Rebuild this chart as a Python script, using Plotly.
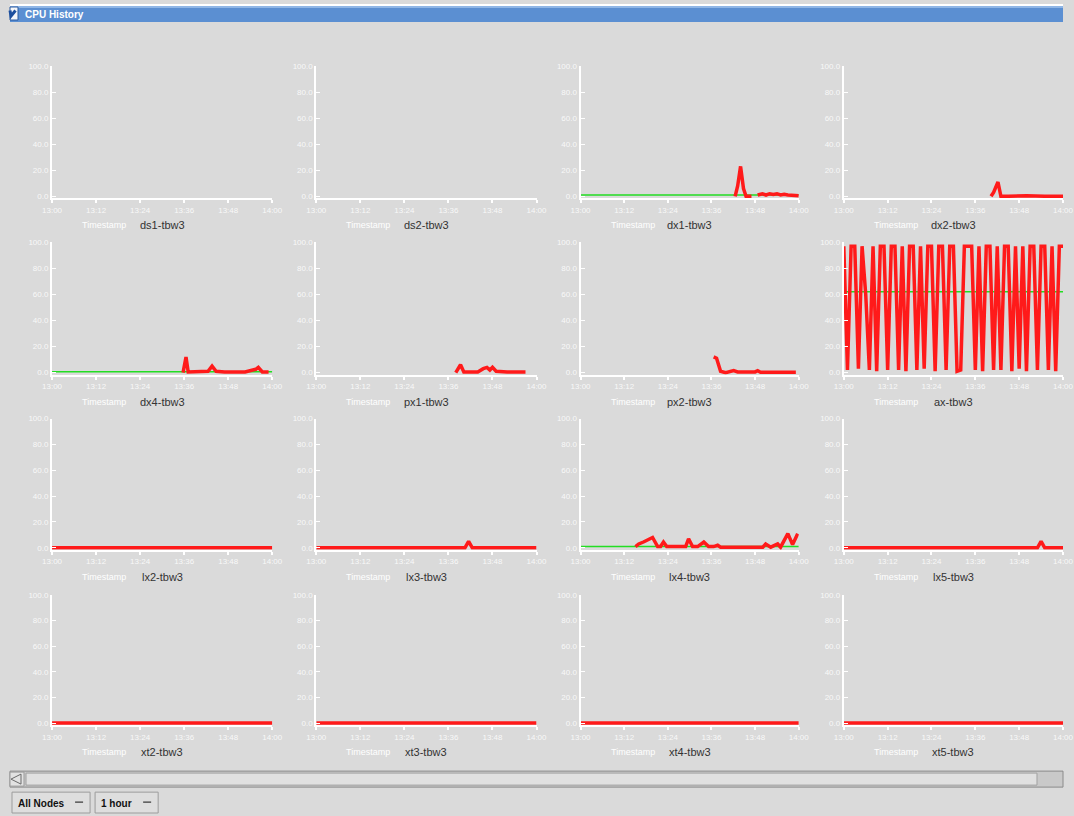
import plotly.graph_objects as go

W, H = 1074, 816

# ---------------- data ----------------
NAMES = ["ds1-tbw3", "ds2-tbw3", "dx1-tbw3", "dx2-tbw3",
         "dx4-tbw3", "px1-tbw3", "px2-tbw3", "ax-tbw3",
         "lx2-tbw3", "lx3-tbw3", "lx4-tbw3", "lx5-tbw3",
         "xt2-tbw3", "xt3-tbw3", "xt4-tbw3", "xt5-tbw3"]

X_TICKS = [0, 12, 24, 36, 48, 60]
X_TICK_LABELS = ["13:00", "13:12", "13:24", "13:36", "13:48", "14:00"]
Y_TICKS = [0, 20, 40, 60, 80, 100]
Y_TICK_LABELS = ["0.0", "20.0", "40.0", "60.0", "80.0", "100.0"]

FULL_T = [0, 60]
ZERO_V = [0, 0]

TIME_1MIN = [0, 1, 2, 3, 4, 5, 6, 7, 8, 9, 10, 11, 12, 13, 14, 15, 16, 17, 18, 19, 20,
             21, 22, 23, 24, 25, 26, 27, 28, 29, 30, 31, 32, 33, 34, 35, 36, 37, 38, 39, 40,
             41, 42, 43, 44, 45, 46, 47, 48, 49, 50, 51, 52, 53, 54, 55, 56, 57, 58, 59, 60]

dx1_red_t = [42.5, 43.2, 44.0, 44.8, 45.5, 47.0, None, 48.7, 50, 51, 52, 53, 54, 55, 56, 57, 58, 59, 60]
dx1_red_v = [0, 8, 23, 6, 0, 0, None, 1, 2, 1, 2, 1.5, 2, 1, 1.5, 1, 1, 0.5, 0.5]
dx1_avg_t = [0, 60]
dx1_avg_v = [1, 1]

dx2_red_t = [40.3, 41.0, 42.2, 43.0, 45, 50, 55, 60]
dx2_red_v = [0, 3, 11, 0, 0, 0.5, 0, 0]

dx4_red_t = [35.7, 36.5, 37.1, 39, 42.5, 43.6, 44.7, 47, 50, 52.6, 55.5, 56.2, 57.3, 59]
dx4_red_v = [0, 12, 0.5, 0.5, 1, 5, 1, 0.5, 0.5, 0.5, 2.5, 4, 0.5, 0.5]
dx4_avg_t = [0, 60]
dx4_avg_v = [0.7, 0.7]

px1_red_t = [0, None, 38, 39.3, 40.2, 42, 44, 45.5, 46.5, 47.3, 48, 49, 52, 57]
px1_red_v = [0.5, None, 0, 6, 0.5, 0.5, 0.5, 3, 4, 2, 4, 1, 0.5, 0.5]

px2_red_t = [36.6, 37.4, 38.5, 39.9, 42.1, 43.2, 48.0, 48.7, 49.5, 54, 59.2]
px2_red_v = [12, 11, 1, 0, 1.5, 0.5, 0.5, 1.5, 0.3, 0.3, 0.3]

ax_red_v = [97, 2, 97, 97, 3, 97, 60, 2, 97, 1, 97, 97, 2, 97, 97, 2, 97, 1, 97, 97,
            2, 97, 3, 97, 97, 1, 97, 97, 2, 97, 97, 1, 2, 97, 97, 97, 2, 97, 1, 97,
            97, 2, 97, 2, 97, 97, 1, 97, 3, 97, 1, 97, 97, 2, 97, 97, 2, 97, 1, 97, 97]
ax_avg_t = [0, 60]
ax_avg_v = [62, 62]

lx3_red_t = [0, 40.5, 41.5, 42.5, 60]
lx3_red_v = [0, 0, 5, 0, 0]

lx4_red_t = [15.1, 16.0, 17.3, 18.4, 19.8, 21.2, 22.0, 22.8, 23.7, 28.9, 29.7, 30.8, 32.2,
             33.9, 35.2, 36.6, 37.7, 38.5, 50.1, 50.9, 52.3, 54.2, 55.0, 57.0, 58.3, 59.7]
lx4_red_v = [1, 3, 4.5, 6, 8, 1, 1, 4.5, 1, 1, 7, 1, 1,
             4.5, 1, 1, 2, 0.5, 0.5, 3, 0.5, 3, 0.5, 11, 2.5, 11]
lx4_avg_t = [0, 60]
lx4_avg_v = [1, 1]

lx5_red_t = [0, 53, 54, 55, 60]
lx5_red_v = [0, 0, 5, 0, 0]

RED = {
    "dx1-tbw3": (dx1_red_t, dx1_red_v),
    "dx2-tbw3": (dx2_red_t, dx2_red_v),
    "dx4-tbw3": (dx4_red_t, dx4_red_v),
    "px1-tbw3": (px1_red_t, px1_red_v),
    "px2-tbw3": (px2_red_t, px2_red_v),
    "ax-tbw3": (TIME_1MIN, ax_red_v),
    "lx2-tbw3": (FULL_T, ZERO_V),
    "lx3-tbw3": (lx3_red_t, lx3_red_v),
    "lx4-tbw3": (lx4_red_t, lx4_red_v),
    "lx5-tbw3": (lx5_red_t, lx5_red_v),
    "xt2-tbw3": (FULL_T, ZERO_V),
    "xt3-tbw3": (FULL_T, ZERO_V),
    "xt4-tbw3": (FULL_T, ZERO_V),
    "xt5-tbw3": (FULL_T, ZERO_V),
}
AVG = {
    "dx1-tbw3": (dx1_avg_t, dx1_avg_v),
    "dx4-tbw3": (dx4_avg_t, dx4_avg_v),
    "ax-tbw3": (ax_avg_t, ax_avg_v),
    "lx4-tbw3": (lx4_avg_t, lx4_avg_v),
}

# ---------------- layout helpers ----------------
# the captured picture places the page at offset (10, 4) with scale (0.9795, 0.990);
# map target picture pixels back to paper fractions.
OX, OY, SX, SY = 10.0, 4.0, 0.9795, 0.990

def px(x):
    return min(1.0, max(0.0, ((x - OX) / SX) / W))

def py(y):
    return min(1.0, max(0.0, 1 - ((y - OY) / SY) / H))

COLS = [(52, 272), (316, 536), (580, 798), (843, 1062)]
ROWS = [(66, 198), (242, 374), (418, 549), (594, 724)]

FONT = "Liberation Sans, Arial, sans-serif"
BG = "#dadada"
TICK_COL = "rgba(255,255,255,0.85)"

fig = go.Figure()
annotations = []
shapes = []
layout_axes = {}

for i, name in enumerate(NAMES):
    r, c = divmod(i, 4)
    x0, x1 = COLS[c]
    ytop, ybot = ROWS[r]
    k = "" if i == 0 else str(i + 1)
    xa, ya = "x" + k, "y" + k
    layout_axes["xaxis" + k] = dict(
        domain=[px(x0), px(x1)], anchor=ya, range=[0, 60],
        tickvals=X_TICKS, ticktext=X_TICK_LABELS,
        showline=True, linecolor="white", linewidth=2,
        ticks="outside", tickcolor="white", ticklen=3, tickwidth=2,
        tickfont=dict(color=TICK_COL, size=8, family=FONT),
        showgrid=False, zeroline=False, fixedrange=True)
    layout_axes["yaxis" + k] = dict(
        domain=[py(ybot), py(ytop)], anchor=xa, range=[-1.5, 100],
        tickvals=Y_TICKS, ticktext=Y_TICK_LABELS,
        showline=True, linecolor="white", linewidth=2,
        ticks="inside", tickcolor="white", ticklen=4, tickwidth=1,
        tickfont=dict(color=TICK_COL, size=8, family=FONT),
        showgrid=False, zeroline=False, fixedrange=True)

    fig.add_trace(go.Scatter(x=[None], y=[None], mode="lines", xaxis=xa, yaxis=ya,
                             showlegend=False, hoverinfo="skip"))
    if name in AVG:
        t, v = AVG[name]
        fig.add_trace(go.Scatter(x=t, y=v, mode="lines", xaxis=xa, yaxis=ya,
                                 line=dict(color="#22dd22", width=1.5),
                                 showlegend=False, hoverinfo="skip"))
    if name in RED:
        t, v = RED[name]
        fig.add_trace(go.Scatter(x=t, y=v, mode="lines", xaxis=xa, yaxis=ya,
                                 line=dict(color="#ff1a1a", width=3.5),
                                 connectgaps=False,
                                 showlegend=False, hoverinfo="skip"))

    cx = (x0 + x1) / 2
    annotations.append(dict(x=px(cx), y=py(ybot + 27), xref="paper", yref="paper",
                            text=name, showarrow=False, xanchor="center", yanchor="middle",
                            font=dict(family=FONT, size=11, color="#333333")))
    annotations.append(dict(x=px(x0 + 52), y=py(ybot + 27), xref="paper", yref="paper",
                            text="Timestamp", showarrow=False, xanchor="center", yanchor="middle",
                            font=dict(family=FONT, size=9, color="white")))

# ---------------- window chrome ----------------
shapes.append(dict(type="rect", xref="paper", yref="paper", x0=0, x1=1, y0=py(6), y1=1,
                   fillcolor="#ffffff", line=dict(width=0), layer="below"))
shapes.append(dict(type="rect", xref="paper", yref="paper", x0=0, x1=1, y0=py(22), y1=py(6),
                   fillcolor="#5b8fd2", line=dict(width=0), layer="below"))
shapes.append(dict(type="rect", xref="paper", yref="paper", x0=0, x1=1, y0=py(8), y1=py(6),
                   fillcolor="#8fb6e6", line=dict(width=0), layer="below"))
shapes.append(dict(type="rect", xref="paper", yref="paper", x0=px(4), x1=px(18), y0=py(20), y1=py(7),
                   fillcolor="#f4f6fa", line=dict(color="#2a5aa0", width=1), layer="below"))
shapes.append(dict(type="path", xref="paper", yref="paper",
                   path=f"M {px(6.5)} {py(10.5)} L {px(11)} {py(16)} L {px(15.5)} {py(10.5)}",
                   line=dict(color="#1d4f9e", width=3)))
annotations.append(dict(x=px(23), y=py(14), xref="paper", yref="paper", text="<b>CPU History</b>",
                        showarrow=False, xanchor="left", yanchor="middle",
                        font=dict(family=FONT, size=10, color="white")))

shapes.append(dict(type="rect", xref="paper", yref="paper", x0=px(8), x1=px(1070), y0=py(786), y1=py(770),
                   fillcolor="#c9c9c9", line=dict(color="#8a8a8a", width=1), layer="below"))
shapes.append(dict(type="rect", xref="paper", yref="paper", x0=px(9), x1=px(24), y0=py(785), y1=py(771),
                   fillcolor="#e2e2e2", line=dict(color="#9a9a9a", width=1), layer="below"))
shapes.append(dict(type="path", xref="paper", yref="paper",
                   path=f"M {px(21)} {py(773)} L {px(11)} {py(778)} L {px(21)} {py(783)} Z",
                   fillcolor="#e2e2e2", line=dict(color="#6a6a6a", width=1)))
shapes.append(dict(type="rect", xref="paper", yref="paper", x0=px(26), x1=px(1036), y0=py(784), y1=py(772),
                   fillcolor="#e0e0e0", line=dict(color="#a0a0a0", width=1), layer="below"))

for bx0, bx1, label in [(12, 90, "All Nodes"), (95, 158, "1 hour")]:
    shapes.append(dict(type="rect", xref="paper", yref="paper", x0=px(bx0), x1=px(bx1),
                       y0=py(813), y1=py(791), fillcolor="#dedede",
                       line=dict(color="#9c9c9c", width=1), layer="below"))
    shapes.append(dict(type="line", xref="paper", yref="paper", x0=px(bx1 - 15), x1=px(bx1 - 7),
                       y0=py(801), y1=py(801), line=dict(color="#555555", width=1.5)))
    annotations.append(dict(x=px(bx0 + 4), y=py(802), xref="paper", yref="paper",
                            text="<b>" + label + "</b>", showarrow=False,
                            xanchor="left", yanchor="middle",
                            font=dict(family=FONT, size=10, color="#111111")))

fig.update_layout(
    width=W, height=H,
    margin=dict(l=0, r=0, t=0, b=0),
    paper_bgcolor=BG, plot_bgcolor="rgba(0,0,0,0)",
    showlegend=False,
    annotations=annotations, shapes=shapes,
    **layout_axes,
)

fig.write_html(
    "out.html",
    config={"staticPlot": True, "displayModeBar": False},
    post_script="document.body.style.margin='0';document.body.style.overflow='hidden';"
                "document.body.style.background='#dadada';"
                "document.documentElement.style.background='#dadada';",
)
